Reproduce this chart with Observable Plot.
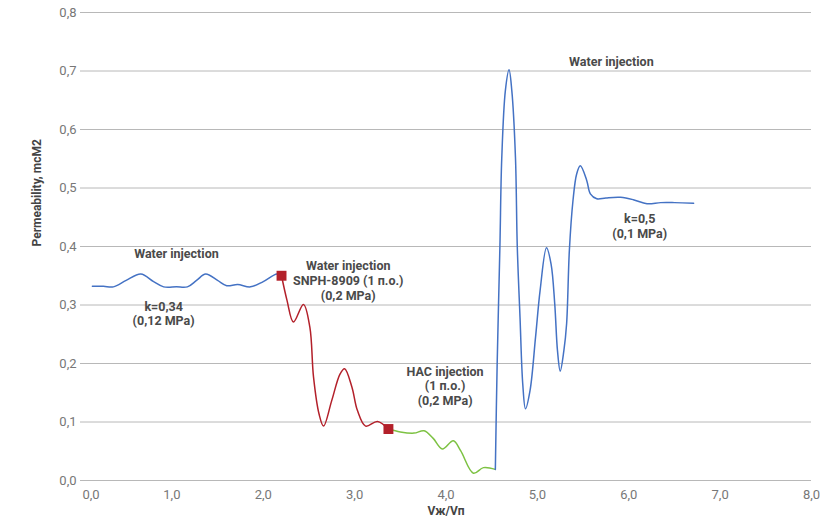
<!DOCTYPE html>
<html>
<head>
<meta charset="utf-8">
<script src="https://cdn.jsdelivr.net/npm/d3@7"></script>
<script src="https://cdn.jsdelivr.net/npm/@observablehq/plot@0.6"></script>
<style>
  html, body { margin: 0; padding: 0; background: #fff; }
  #chart { width: 829px; height: 517px; }
  svg { font-family: Roboto, "Noto Sans", sans-serif; }
</style>
</head>
<body>
<div id="chart"></div>
<script>
// --- data ---
const waterBeforeX = [0.13, 0.25, 0.36, 0.5, 0.66, 0.8, 0.91, 1.05, 1.17, 1.27, 1.37, 1.5, 1.6, 1.72, 1.86, 2.0, 2.15, 2.2];
const waterBeforeY = [0.332, 0.332, 0.331, 0.342, 0.353, 0.340, 0.331, 0.331, 0.331, 0.342, 0.353, 0.342, 0.333, 0.335, 0.331, 0.34, 0.353, 0.35];

const snphX = [2.2, 2.26, 2.33, 2.44, 2.51, 2.55, 2.61, 2.66, 2.75, 2.84, 2.89, 2.97, 3.03, 3.12, 3.25, 3.37];
const snphY = [0.35, 0.308, 0.271, 0.301, 0.262, 0.177, 0.114, 0.093, 0.137, 0.182, 0.191, 0.16, 0.12, 0.093, 0.101, 0.088];

const hacX = [3.37, 3.5, 3.65, 3.76, 3.86, 3.96, 4.08, 4.16, 4.3, 4.41, 4.54];
const hacY = [0.088, 0.083, 0.081, 0.085, 0.072, 0.054, 0.068, 0.051, 0.0125, 0.022, 0.019];

const waterAfterX = [4.54, 4.56, 4.59, 4.61, 4.65, 4.69, 4.72, 4.76, 4.78, 4.81, 4.84, 4.87, 4.92, 4.98, 5.03, 5.10, 5.15, 5.19, 5.22, 5.25, 5.29, 5.32, 5.35, 5.39, 5.43, 5.47, 5.54, 5.58, 5.65, 5.75, 5.91, 6.05, 6.2, 6.35, 6.5, 6.71];
const waterAfterY = [0.019, 0.2, 0.40, 0.55, 0.667, 0.702, 0.667, 0.553, 0.40, 0.279, 0.165, 0.1225, 0.154, 0.245, 0.325, 0.398, 0.37, 0.302, 0.222, 0.187, 0.222, 0.268, 0.393, 0.479, 0.524, 0.538, 0.513, 0.49, 0.4815, 0.483, 0.484, 0.48, 0.473, 0.475, 0.475, 0.474];

const markerX = [2.2, 3.37];
const markerY = [0.35, 0.088];

const xTicks = [0, 1, 2, 3, 4, 5, 6, 7, 8];
const yTicks = [0, 0.1, 0.2, 0.3, 0.4, 0.5, 0.6, 0.7, 0.8];

const noteText = ["Water injection", "k=0,34\n(0,12 MPa)", "Water injection\nSNPH-8909 (1 п.о.)\n(0,2 MPa)", "HAC injection\n(1 п.о.)\n(0,2 MPa)", "Water injection", "k=0,5\n(0,1 MPa)"];
const noteX = [1.05, 0.91, 2.93, 3.99, 5.81, 6.12];
const noteY = [0.388, 0.286, 0.342, 0.162, 0.716, 0.435];

const xTitle = "Vж/Vп";
const yTitle = "Permeability, mcM2";

// --- build tables ---
const zip = (xs, ys) => xs.map((x, i) => ({x, y: ys[i]}));
const seg1 = zip(waterBeforeX, waterBeforeY);
const seg2 = zip(snphX, snphY);
const seg3 = zip(hacX, hacY);
const seg4 = zip(waterAfterX, waterAfterY);
const markers = zip(markerX, markerY);
const notes = noteText.map((t, i) => ({t, x: noteX[i], y: noteY[i]}));
const fmt = d => d3.format(".1f")(d).replace(".", ",");

const blue = "#4472c4", red = "#b3202a", green = "#7dc243";

const chart = Plot.plot({
  width: 829,
  height: 517,
  marginLeft: 80,
  marginRight: 18,
  marginTop: 12,
  marginBottom: 37,
  style: {fontFamily: "Roboto, sans-serif", background: "#fff"},
  x: {domain: [0, 8]},
  y: {domain: [0, 0.8]},
  marks: [
    Plot.ruleY(yTicks, {stroke: "#b8b8b8", strokeWidth: 1}),
    Plot.axisY(yTicks, {tickSize: 0, tickPadding: 4, tickFormat: fmt, fontSize: 13, fill: "#777", label: null}),
    Plot.axisX(xTicks.filter(d => d > 0), {tickSize: 0, tickPadding: 9, tickFormat: fmt, fontSize: 13, fill: "#777", label: null}),
    Plot.axisX([0], {tickSize: 0, tickPadding: 9, tickFormat: fmt, fontSize: 13, fill: "#777", textAnchor: "start", dx: 2, label: null}),
    Plot.text([xTitle], {frameAnchor: "bottom", dy: 34, text: d => d, fontWeight: "bold", fontSize: 12, fill: "#444"}),
    Plot.text([yTitle], {frameAnchor: "left", dx: -43, rotate: -90, text: d => d, fontWeight: "bold", fontSize: 12, fill: "#444"}),
    Plot.line(seg1, {x: "x", y: "y", stroke: blue, strokeWidth: 1.5, curve: "catmull-rom"}),
    Plot.line(seg2, {x: "x", y: "y", stroke: red, strokeWidth: 1.5, curve: "catmull-rom"}),
    Plot.line(seg3, {x: "x", y: "y", stroke: green, strokeWidth: 1.5, curve: "catmull-rom"}),
    Plot.line(seg4, {x: "x", y: "y", stroke: blue, strokeWidth: 1.5, curve: "catmull-rom"}),
    Plot.dot(markers, {x: "x", y: "y", symbol: "square", r: 5.6, fill: red, stroke: "none"}),
    Plot.text(notes, {x: "x", y: "y", text: "t", fontWeight: "bold", fontSize: 12.5, fill: "#4a4a4a", lineHeight: 1.17})
  ]
});
document.getElementById("chart").appendChild(chart);
</script>
</body>
</html>
